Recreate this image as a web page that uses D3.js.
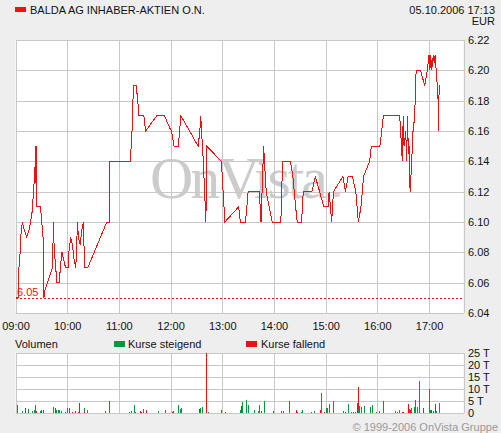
<!DOCTYPE html>
<html>
<head>
<meta charset="utf-8">
<script src="https://cdn.jsdelivr.net/npm/d3@7"></script>
<style>
body { margin: 0; background: #eeeeee; }
svg text { font-family: "Liberation Sans", Arial, sans-serif; font-size: 11px; fill: #111; }
</style>
</head>
<body>
<div id="chart"></div>
<script>
// price ticks: minutes after 09:00 and price in EUR
var priceMin = [1,3,3,5,6,8,10,13,16,19,21,23,23,24,24,24,29,32,32,33,34,43,44,45,46,48,51,52,54,56,58,61,62,64,66,68,70,72,73,75,77,79,80,84,106,109,109,
  133,135,136,137,140,142,143,149,151,164,173,179,181,184,189,192,212,214,215,216,218,221,222,239,241,243,259,261,267,270,283,285,288,289,291,298,
  308,310,319,322,326,327,332,334,344,348,353,358,363,364,367,369,380,383,386,391,395,398,401,404,411,413,423,425,427,446,447,449,450,451,453,454,
  455,456,457,458,460,461,462,464,465,470,475,478,480,481,482,483,485,486,487,489,491,491,491,492];
var priceVal = [6.05,6.05,6.065,6.075,6.09,6.10,6.095,6.09,6.095,6.105,6.12,6.14,6.15,6.12,6.15,6.11,6.11,6.09,6.07,6.05,6.055,6.07,6.10,6.08,6.075,6.06,6.06,6.07,6.08,6.075,6.07,6.07,6.08,6.09,6.085,6.075,6.07,6.10,6.09,6.085,6.095,6.10,6.07,6.07,6.10,6.10,6.14,
  6.14,6.155,6.175,6.19,6.19,6.18,6.17,6.17,6.16,6.17,6.17,6.162,6.16,6.15,6.15,6.17,6.15,6.16,6.17,6.16,6.14,6.10,6.15,6.14,6.12,6.10,6.11,6.10,6.10,6.12,6.12,6.10,6.15,6.14,6.12,6.10,
  6.10,6.14,6.14,6.13,6.105,6.10,6.10,6.12,6.12,6.13,6.12,6.11,6.11,6.12,6.10,6.12,6.13,6.12,6.13,6.13,6.12,6.10,6.11,6.13,6.14,6.15,6.15,6.16,6.17,6.17,6.16,6.14,6.17,6.15,6.16,6.14,
  6.17,6.145,6.15,6.12,6.14,6.16,6.16,6.18,6.20,6.20,6.19,6.20,6.21,6.20,6.21,6.20,6.21,6.205,6.21,6.195,6.175,6.16,6.175,6.19];

// volume: minutes after 09:00, thousand shares, u = rising / d = falling
var volMin = [2,8,11,14,19,22,23,24,29,30,32,43,44,46,47,49,51,53,58,60,62,66,69,72,74,79,80,83,104,108,109,132,134,137,139,145,146,148,151,165,173,182,183,189,191,192,
  213,214,216,221,223,239,243,260,262,263,267,270,277,281,283,285,288,299,308,310,318,326,327,331,333,343,347,353,355,358,360,361,364,368,380,383,386,389,392,394,396,397,398,399,
  401,404,411,414,419,422,426,441,443,445,449,450,455,457,458,459,462,464,466,468,473,480,481,482,485,487,488,491,492];
var volVal = [3.5,0.7,2.2,1.8,1,1.4,3.5,0.8,1,1.2,1.2,2.6,0.6,2.2,1.2,1.2,1.4,0.7,0.6,2.2,2.2,0.6,1,0.6,4.3,2.2,0.4,1.4,1,4.7,5,0.6,1,3.5,0.6,1,0.6,1.8,1.4,1,1.4,0.6,1,3.5,1.8,2.2,
  1.8,2.2,2.6,30,0.6,1.4,0.6,1.4,3,4.7,5.5,3.3,1.4,1,3.3,1,5.1,1,1,1,5.1,1.4,0.6,0.6,1.4,0.6,1,1.4,8.5,0.6,2.2,2.2,3.9,5.1,1,0.6,3.9,0.6,0.6,0.6,4.3,10.7,1.8,3,
  2.6,3,2.6,3.5,0.6,1,5.1,1,0.6,1.4,0.6,0.6,3.9,1.8,1.4,2.2,2.6,5.5,2.6,13.5,2.2,10.2,1.4,1.4,1,3.9,1,1,4.3];
var volDir = ["u","u","d","u","u","u","u","d","u","d","d","u","u","d","u","u","u","u","d","u","u","d","d","d","d","u","d","u","u","u","u","u","u","u","u","d","d","u","d","u","u","d","d","u","u","u",
  "d","u","u","d","u","d","d","u","d","u","u","u","u","u","u","d","u","d","u","u","u","d","u","u","u","u","u","d","u","d","u","u","u","u","u","d","u","u","u","d","d","d","u","u",
  "u","u","u","u","u","u","u","u","u","u","d","d","d","u","d","u","u","u","u","u","d","u","u","d","u","d","u","d","u"];

var hourLabels = ["09:00","10:00","11:00","12:00","13:00","14:00","15:00","16:00","17:00"];
var priceTicks = [6.04,6.06,6.08,6.10,6.12,6.14,6.16,6.18,6.20,6.22];
var volTicks = [0,5,10,15,20,25];
var refPrice = 6.05;

var W = 501, H = 433;
var red = "#ee1111", green = "#009a3d", grid = "#c8c8c8";

var svg = d3.select("#chart")
    .append("svg")
    .attr("width", W)
    .attr("height", H);

var x = d3.scaleLinear().domain([0, 520]).range([15.5, 463.5]);
var y = d3.scaleLinear().domain([6.04, 6.22]).range([313, 40]);
var yv = d3.scaleLinear().domain([0, 25]).range([413, 353]);

function px(v) { return Math.round(v) + 0.5; }

// header
svg.append("rect").attr("x", 15).attr("y", 7).attr("width", 11).attr("height", 5).attr("fill", "#e8141c");
svg.append("text").attr("x", 30).attr("y", 14).text("BALDA AG INHABER-AKTIEN O.N.");
svg.append("text").attr("x", 495).attr("y", 14).attr("text-anchor", "end").text("05.10.2006 17:13");
svg.append("text").attr("x", 495).attr("y", 25).attr("text-anchor", "end").text("EUR");

// plot backgrounds
svg.append("rect").attr("x", 15.5).attr("y", 40).attr("width", 448).attr("height", 273).attr("fill", "#fff");
svg.append("rect").attr("x", 15.5).attr("y", 353).attr("width", 448).attr("height", 60).attr("fill", "#fff");

// watermark
svg.append("text")
    .attr("x", 150).attr("y", 198)
    .attr("textLength", 178)
    .style("font-family", "'Liberation Serif', 'DejaVu Serif', serif")
    .style("font-size", "60px")
    .style("fill", "#cccccc")
    .text("OnVista");
svg.append("rect").attr("x", 334).attr("y", 192).attr("width", 6).attr("height", 5).attr("rx", 2).attr("fill", "#ecc8cc");

// grid
var hourMins = hourLabels.map(function(d, i) { return i * 60; });
var gridG = svg.append("g").attr("stroke", grid).attr("stroke-width", 1).attr("shape-rendering", "crispEdges");

gridG.selectAll(".hp").data(priceTicks).enter().append("line")
    .attr("x1", 15.5).attr("x2", 463.5)
    .attr("y1", function(d) { return px(y(d)); })
    .attr("y2", function(d) { return px(y(d)); });
gridG.selectAll(".hv").data(volTicks).enter().append("line")
    .attr("x1", 15.5).attr("x2", 463.5)
    .attr("y1", function(d) { return px(yv(d)); })
    .attr("y2", function(d) { return px(yv(d)); });
gridG.selectAll(".vp").data(hourMins.concat([520])).enter().append("line")
    .attr("x1", function(d) { return px(x(d)); })
    .attr("x2", function(d) { return px(x(d)); })
    .attr("y1", 40).attr("y2", 313);
gridG.selectAll(".vv").data(hourMins.concat([520])).enter().append("line")
    .attr("x1", function(d) { return px(x(d)); })
    .attr("x2", function(d) { return px(x(d)); })
    .attr("y1", 353).attr("y2", 413);

// reference line
svg.append("line")
    .attr("x1", 15.5).attr("x2", 463.5)
    .attr("y1", px(y(refPrice))).attr("y2", px(y(refPrice)))
    .attr("stroke", red).attr("stroke-dasharray", "2,2")
    .attr("shape-rendering", "crispEdges");
svg.append("text")
    .attr("x", 17).attr("y", y(refPrice) - 1.5)
    .style("fill", red)
    .text(d3.format(".2f")(refPrice));

// price line
var pts = priceMin.map(function(m, i) { return [m, priceVal[i]]; });
var line = d3.line()
    .x(function(d) { return x(d[0]); })
    .y(function(d) { return y(d[1]); });
svg.append("path")
    .datum(pts)
    .attr("d", line)
    .attr("fill", "none")
    .attr("stroke", red)
    .attr("stroke-width", 1)
    .attr("shape-rendering", "crispEdges");

// axes labels
var xAxis = d3.axisBottom(x)
    .tickValues(hourMins)
    .tickFormat(function(d, i) { return hourLabels[i]; })
    .tickSize(0).tickPadding(9);
var gx = svg.append("g").attr("transform", "translate(0,313)").call(xAxis);
gx.select(".domain").remove();
gx.selectAll("text").attr("font-family", null).attr("font-size", null);

var yAxis = d3.axisRight(y)
    .tickValues(priceTicks)
    .tickFormat(d3.format(".2f"))
    .tickSize(0).tickPadding(4);
var gy = svg.append("g").attr("transform", "translate(464,0)").call(yAxis);
gy.select(".domain").remove();

var vAxis = d3.axisRight(yv)
    .tickValues(volTicks)
    .tickFormat(function(d) { return d === 0 ? "0" : d + " T"; })
    .tickSize(0).tickPadding(4);
var gv = svg.append("g").attr("transform", "translate(464,0)").call(vAxis);
gv.select(".domain").remove();
svg.selectAll("g.tick").select("text").style("fill", "#111");

// volume bars
svg.append("clipPath").attr("id", "vclip")
    .append("rect").attr("x", 15).attr("y", 353).attr("width", 449).attr("height", 61);
svg.append("g")
    .attr("clip-path", "url(#vclip)")
    .selectAll("rect")
    .data(volMin)
    .enter()
    .append("rect")
    .attr("x", function(d) { return Math.round(x(d)); })
    .attr("y", function(d, i) { return yv(volVal[i]); })
    .attr("width", 1)
    .attr("height", function(d, i) { return yv(0) - yv(volVal[i]); })
    .attr("fill", function(d, i) { return volDir[i] === "u" ? green : red; })
    .attr("shape-rendering", "crispEdges");

// volume legend
svg.append("text").attr("x", 15).attr("y", 348).text("Volumen");
svg.append("rect").attr("x", 114).attr("y", 341).attr("width", 11).attr("height", 6).attr("fill", green);
svg.append("text").attr("x", 128).attr("y", 348).text("Kurse steigend");
svg.append("rect").attr("x", 246).attr("y", 341).attr("width", 11).attr("height", 6).attr("fill", "#e8141c");
svg.append("text").attr("x", 261).attr("y", 348).text("Kurse fallend");

svg.append("text")
    .attr("x", 498).attr("y", 431)
    .attr("text-anchor", "end")
    .style("fill", "#999")
    .text("\u00a9 1999-2006 OnVista Gruppe");
</script>
</body>
</html>
